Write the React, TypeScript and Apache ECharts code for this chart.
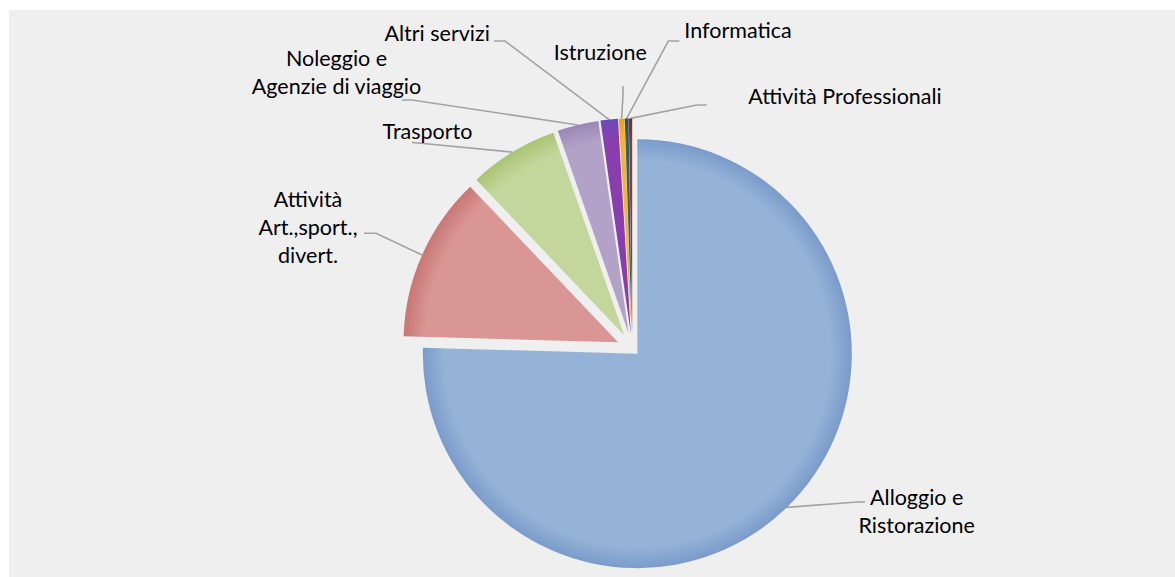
import React, { useEffect, useRef } from 'react';
import * as echarts from 'echarts';

// ---- data ----
const categories = [
  'Alloggio e\nRistorazione',
  'Attività\nArt.,sport.,\ndivert.',
  'Trasporto',
  'Noleggio e\nAgenzie di viaggio',
  'Altri servizi',
  'Istruzione',
  'Informatica',
  'Attività Professionali',
];
const values = [75.4, 12.45, 6.75, 3.1, 1.3, 0.42, 0.28, 0.25];

// ---- styles ----
const fills = ['#95b3d7', '#d99694', '#c3d69b', '#b3a2c7', '#8a3dad', '#f9b233', '#2c6470', '#8e3b34'];
const edges = ['#7a9bcb', '#c87774', '#aac475', '#9b87b6', '#6c4cb8', '#eea020', '#234f59', '#722d28'];
// explosion distance of each slice (px)
const explode = [7.2, 15.6, 15.6, 15.6, 15.6, 15.6, 15.6, 15.6];

const CENTER: [number, number] = [632.3, 348.5];
const RADIUS = 214.5;

// label text centres and leader bend / end points
const labelAnchors = [
  { x: 916.7, y: 510.5, bend: [857, 502], end: [865, 502] },
  { x: 308, y: 226.7, bend: [376, 233.3], end: [364, 233.3] },
  { x: 427.5, y: 131, bend: [421, 143.3], end: [412, 142.5] },
  { x: 336.5, y: 71.7, bend: [412, 100], end: [402, 100] },
  { x: 437.2, y: 33.3, bend: [505, 41], end: [494, 41] },
  { x: 600.3, y: 51.7, bend: [623, 95], end: [623, 86] },
  { x: 738, y: 30, bend: [668.3, 41], end: [679.3, 41] },
  { x: 845, y: 96, bend: [696.7, 105], end: [706.7, 105] },
];

const total = values.reduce((s, v) => s + v, 0);

function sliceCenter(i: number): [number, number] {
  let before = 0;
  for (let k = 0; k < i; k++) before += values[k];
  const mid = ((before + values[i] / 2) / total) * Math.PI * 2; // clockwise from 12 o'clock
  return [CENTER[0] + Math.sin(mid) * explode[i], CENTER[1] - Math.cos(mid) * explode[i]];
}

function sliceColor(i: number, c: [number, number]) {
  return new echarts.graphic.RadialGradient(
    c[0],
    c[1],
    RADIUS,
    [
      { offset: 0, color: fills[i] },
      { offset: 0.9, color: fills[i] },
      { offset: 1, color: edges[i] },
    ],
    true
  );
}

function buildSeries(idx: number) {
  const c = sliceCenter(idx);
  return {
    type: 'pie',
    center: c,
    radius: RADIUS,
    startAngle: 90,
    clockwise: true,
    silent: true,
    avoidLabelOverlap: false,
    z: 2,
    label: {
      show: true,
      position: 'outside',
      formatter: '{b}',
      color: '#000',
      fontFamily: 'Lato',
      fontSize: 21.5,
      lineHeight: 28,
      align: 'center',
    },
    labelLine: {
      show: true,
      length: 10,
      length2: 10,
      lineStyle: { color: '#a3a3a3', width: 1.6 },
    },
    labelLayout: (p: any) => {
      const a = labelAnchors[p.dataIndex];
      const pts = p.labelLinePoints;
      const start = pts && pts[0] ? pts[0] : a.bend;
      return {
        x: a.x,
        y: a.y,
        align: 'center',
        verticalAlign: 'middle',
        labelLinePoints: [start, a.bend, a.end],
      };
    },
    data: categories.map((name, i) =>
      i === idx
        ? { name, value: values[i], itemStyle: { color: sliceColor(i, c) } }
        : {
            name,
            value: values[i],
            itemStyle: { color: 'rgba(0,0,0,0)' },
            label: { show: false },
            labelLine: { show: false },
          }
    ),
  };
}

export default function App() {
  const ref = useRef<HTMLDivElement>(null);
  useEffect(() => {
    if (!ref.current) return;
    const chart = echarts.init(ref.current, undefined, { renderer: 'svg' });
    chart.setOption({
      animation: false,
      backgroundColor: '#ffffff',
      graphic: [
        {
          type: 'rect',
          shape: { x: 9, y: 10, width: 1166, height: 567 },
          style: { fill: '#efefef' },
          z: -10,
          silent: true,
        },
      ],
      series: categories.map((_, i) => buildSeries(i)),
    });
    return () => chart.dispose();
  }, []);
  return (
    <div
      ref={ref}
      style={{ position: 'absolute', left: 0, top: 0, width: 1175, height: 577 }}
    />
  );
}
